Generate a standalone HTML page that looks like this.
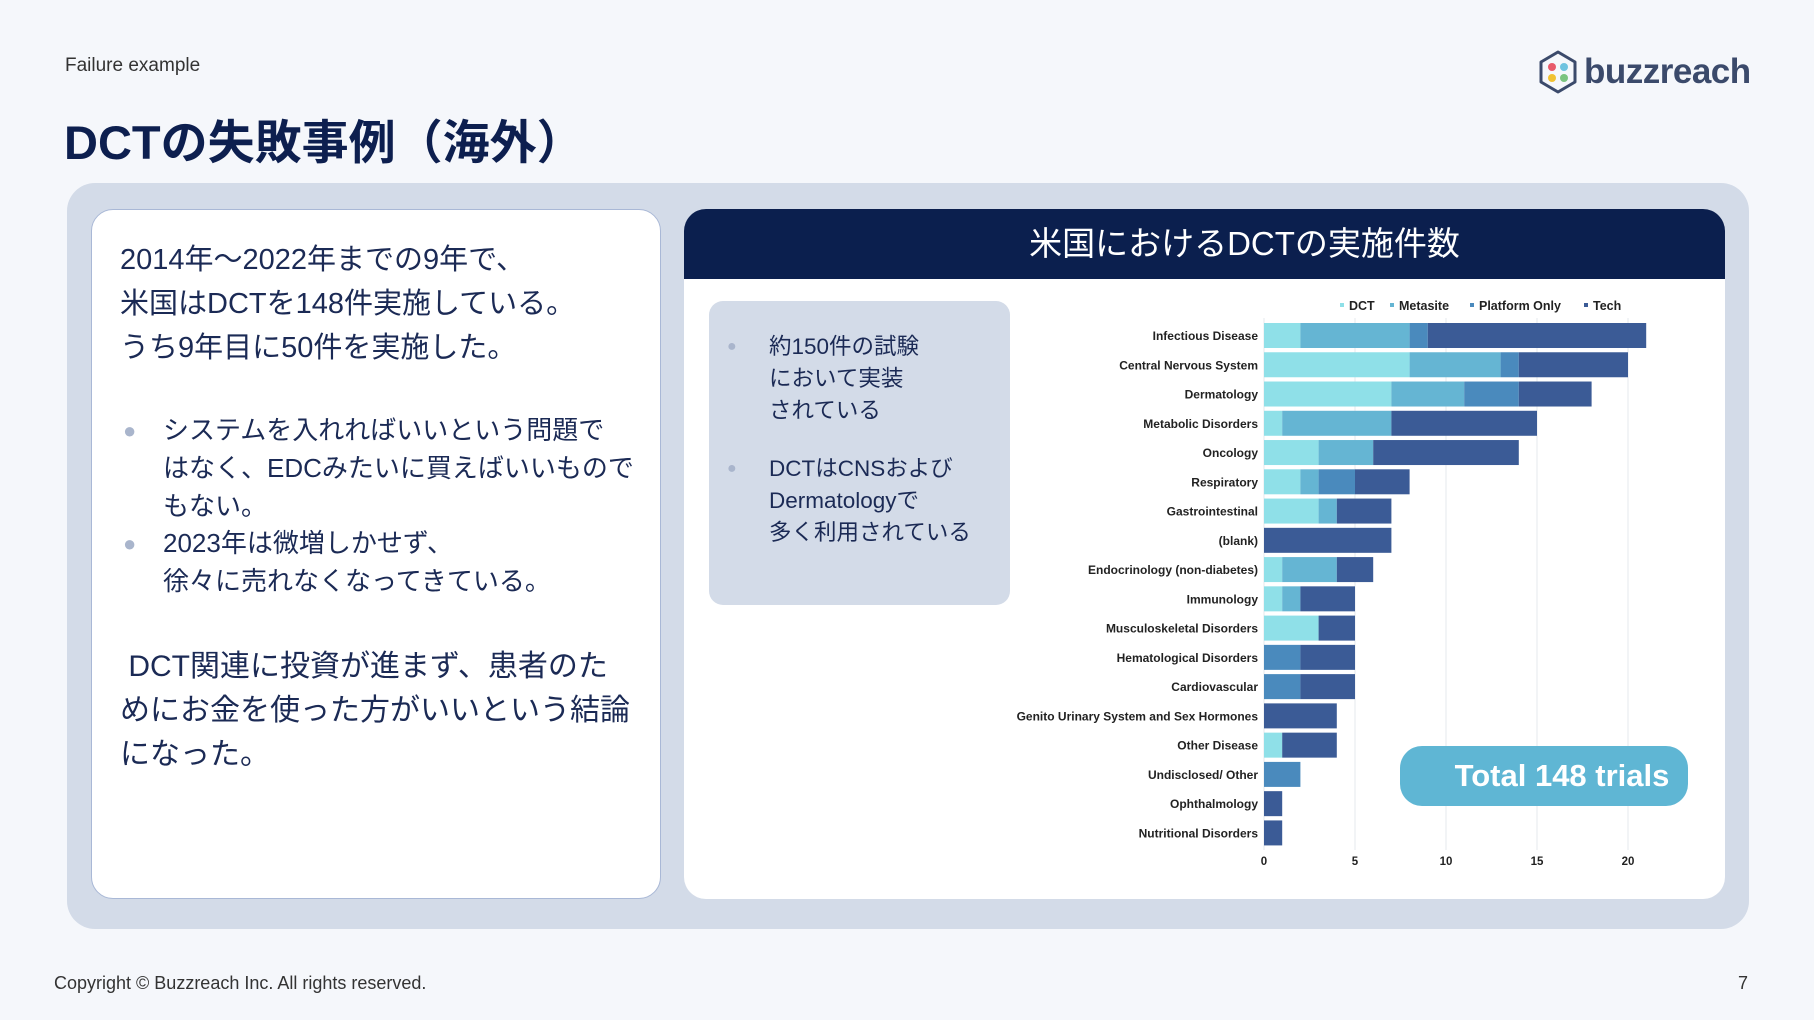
<!DOCTYPE html>
<html><head><meta charset="utf-8">
<style>
body{margin:0;width:1814px;height:1020px;background:#f5f7fb;position:relative;overflow:hidden;font-family:"Liberation Sans","Noto Sans CJK JP",sans-serif;}
.abs{position:absolute;}
</style></head><body>
<div class="abs" style="left:65px;top:55px;font-size:19px;color:#333;">Failure example</div>
<div class="abs" style="left:64px;top:104px;font-size:47px;font-weight:bold;color:#0d1f4f;">DCTの失敗事例（海外）</div>
<div class="abs" style="left:1536px;top:50px;height:44px;display:flex;align-items:center;">
<svg width="44" height="44" viewBox="0 0 44 44"><polygon points="22,2 39,12 39,32 22,42 5,32 5,12" fill="none" stroke="#3b4a6b" stroke-width="3" stroke-linejoin="round"/><circle cx="16" cy="17" r="4" fill="#e85a6a"/><circle cx="28" cy="17" r="4" fill="#6fc3e0"/><circle cx="16" cy="28" r="4" fill="#f1c232"/><circle cx="28" cy="28" r="4" fill="#7bc47f"/></svg>
<span style="font-size:35px;font-weight:bold;color:#3b4a6b;margin-left:4px;letter-spacing:-0.5px;">buzzreach</span></div>

<div class="abs" style="left:67px;top:183px;width:1682px;height:746px;background:#d3dbe8;border-radius:28px;"></div>

<div class="abs" style="left:91px;top:209px;width:568px;height:688px;background:#fff;border:1.5px solid #a9b8d6;border-radius:22px;"></div>
<div class="abs" style="left:120px;top:238px;font-size:29px;line-height:44px;color:#1b2a55;">2014年～2022年までの9年で、<br>米国はDCTを148件実施している。<br>うち9年目に50件を実施した。</div>
<div class="abs" style="left:130px;top:412px;font-size:26px;line-height:37.8px;color:#1b2a55;">
<div style="position:relative;padding-left:33px;"><span style="position:absolute;left:-7px;top:0;font-size:22px;color:#a9b5cc;">●</span>システムを入れればいいという問題で<br>はなく、EDCみたいに買えばいいもので<br>もない。</div>
<div style="position:relative;padding-left:33px;"><span style="position:absolute;left:-7px;top:0;font-size:22px;color:#a9b5cc;">●</span>2023年は微増しかせず、<br>徐々に売れなくなってきている。</div></div>
<div class="abs" style="left:120px;top:645px;font-size:30px;line-height:44px;color:#1b2a55;">&nbsp;DCT関連に投資が進まず、患者のた<br>めにお金を使った方がいいという結論<br>になった。</div>

<div class="abs" style="left:684px;top:209px;width:1041px;height:690px;background:#fff;border-radius:22px;overflow:hidden;">
<div style="height:70px;background:#0b1f4e;color:#fff;font-size:33px;text-align:center;line-height:70px;padding-left:80px;">米国におけるDCTの実施件数</div></div>
<div class="abs" style="left:709px;top:301px;width:301px;height:304px;background:#d3dbe8;border-radius:14px;"></div>
<div class="abs" style="left:727px;top:331px;font-size:22.5px;line-height:32px;color:#1b2a55;">
<div style="position:relative;padding-left:42px;"><span style="position:absolute;left:0;font-size:16px;color:#a9b5cc;">●</span>約150件の試験<br>において実装<br>されている</div>
<div style="position:relative;padding-left:42px;margin-top:26px;"><span style="position:absolute;left:0;font-size:16px;color:#a9b5cc;">●</span>DCTはCNSおよび<br>Dermatologyで<br>多く利用されている</div></div>

<svg class="abs" id="chart" style="left:0;top:0;" width="1814" height="1020"></svg>

<div class="abs" style="left:1400px;top:746px;width:288px;height:60px;background:#5fb6d4;border-radius:22px;color:#fff;font-size:31px;font-weight:bold;line-height:60px;text-align:center;box-sizing:border-box;padding-left:36px;">Total 148 trials</div>

<div class="abs" style="left:54px;top:973px;font-size:18px;color:#333;">Copyright © Buzzreach Inc. All rights reserved.</div>
<div class="abs" style="left:1738px;top:973px;font-size:18px;color:#333;">7</div>

<script>
const categories=["Infectious Disease","Central Nervous System","Dermatology","Metabolic Disorders","Oncology","Respiratory","Gastrointestinal","(blank)","Endocrinology (non-diabetes)","Immunology","Musculoskeletal Disorders","Hematological Disorders","Cardiovascular","Genito Urinary System and Sex Hormones","Other Disease","Undisclosed/ Other","Ophthalmology","Nutritional Disorders"];
const dct=[2,8,7,1,3,2,3,0,1,1,3,0,0,0,1,0,0,0];
const metasite=[6,5,4,6,3,1,1,0,3,1,0,0,0,0,0,0,0,0];
const platformOnly=[1,1,3,0,0,2,0,0,0,0,0,2,2,0,0,2,0,0];
const tech=[12,6,4,8,8,3,3,7,2,3,2,3,3,4,3,0,1,1];
const seriesNames=["DCT","Metasite","Platform Only","Tech"];
const ticks=[0,5,10,15,20];

const svg=document.getElementById('chart');
const NS='http://www.w3.org/2000/svg';
const x0=1264,unit=18.2,y0=335.5,step=29.26,bh=25;
const xs=v=>x0+v*unit;
const ys=i=>y0+i*step;
const colors=['#8fe0e8','#65b5d3','#4a8abd','#3b5b96'];
const series=[dct,metasite,platformOnly,tech];
function mk(t,a){const e=document.createElementNS(NS,t);for(const k in a)e.setAttribute(k,a[k]);svg.appendChild(e);return e;}
ticks.forEach(t=>{
 const g=mk('line',{x1:xs(t),x2:xs(t),y1:318,y2:850,stroke:'#e6e8ec','stroke-width':1});
 
 
 const l=mk('text',{x:xs(t),y:865,'text-anchor':'middle','font-size':11.5,'font-weight':'bold',fill:'#222'});
 l.textContent=t;
 
 
});
categories.forEach((c,i)=>{
 const l=mk('text',{x:1258,y:ys(i)+4.5,'text-anchor':'end','font-size':12,'font-weight':'bold',fill:'#222'});
 l.textContent=c;
 
 
 let acc=0;
 series.forEach((s,k)=>{
  const v=s[i]; if(!v) return;
  const r=mk('rect',{x:xs(acc),y:ys(i)-bh/2,width:xs(acc+v)-xs(acc),height:bh,fill:colors[k]});
  
  
  acc+=v;
 });
});
const lx=[1340,1390,1470,1584];
seriesNames.forEach((n,k)=>{
 const r=mk('rect',{x:lx[k],y:303,width:4,height:4,fill:colors[k]});
 
 
 const t=mk('text',{x:lx[k]+9,y:310,'font-size':12.5,'font-weight':'bold',fill:'#222'});
 t.textContent=n;
 
 
});
</script>
</body></html>
